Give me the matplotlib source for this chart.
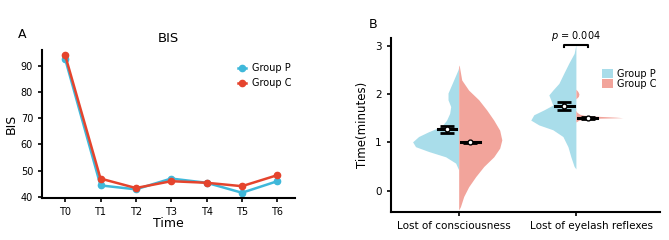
import numpy as np
import matplotlib.pyplot as plt
import matplotlib.transforms as mtransforms

# ---- panel A data (BIS over time) ----
time_labels = ['T0', 'T1', 'T2', 'T3', 'T4', 'T5', 'T6']
bis_p = [92.6, 44.4, 42.9, 47.0, 45.4, 41.6, 46.0]
bis_p_err = [0.6, 0.7, 0.6, 0.7, 0.6, 0.7, 0.7]
bis_c = [94.0, 47.0, 43.4, 46.0, 45.4, 44.1, 48.3]
bis_c_err = [0.6, 0.7, 0.6, 0.7, 0.6, 0.7, 0.7]

# ---- panel B data (half violins, outlines) ----
categories = ['Lost of consciousness', 'Lost of eyelash reflexes']

# (time, half width in category units)
cons_p_y = [0.43, 0.57, 0.70, 0.81, 0.91, 1.01, 1.12, 1.22, 1.33, 1.46, 1.60,
            1.74, 1.88, 2.02, 2.15, 2.29, 2.50, 2.55]
cons_p_w = [0, 0.026, 0.111, 0.256, 0.368, 0.393, 0.342, 0.256, 0.145, 0.103,
            0.077, 0.068, 0.091, 0.091, 0.068, 0.043, 0.006, 0]
cons_c_y = [-0.40, -0.33, -0.12, 0.08, 0.29, 0.50, 0.70, 0.88, 1.05, 1.25,
            1.46, 1.67, 1.88, 2.08, 2.29, 2.57, 2.60]
cons_c_w = [0, 0.015, 0.043, 0.085, 0.145, 0.214, 0.299, 0.350, 0.368, 0.350,
            0.299, 0.239, 0.171, 0.085, 0.026, 0.006, 0]
eye_p_y = [0.45, 0.50, 0.70, 0.91, 1.12, 1.26, 1.36, 1.46, 1.57, 1.67, 1.77,
           1.88, 1.98, 2.08, 2.22, 2.43, 2.64, 2.84, 3.02]
eye_p_w = [0, 0.015, 0.043, 0.068, 0.111, 0.197, 0.316, 0.385, 0.359, 0.274,
           0.197, 0.214, 0.231, 0.197, 0.145, 0.103, 0.060, 0.015, 0]
eye_c_y = [1.42, 1.46, 1.48, 1.50, 1.51, 1.52, 1.54, 1.56, 1.58, 1.62, 1.66,
           1.90, 1.95, 2.00, 2.05, 2.10]
eye_c_w = [0, 0.026, 0.068, 0.214, 0.40, 0.342, 0.171, 0.068, 0.034, 0.009, 0,
           0, 0.021, 0.026, 0.017, 0]

mean_p = [1.27, 1.75]
sem_p = [0.07, 0.08]
mean_c = [1.00, 1.51]
sem_c = [0.015, 0.02]

blue_a = '#3FB8DA'
red_a = '#E5442D'
blue_b = '#A9DDEA'
red_b = '#F2A49B'

fig = plt.figure(figsize=(6.69, 2.4), dpi=100)

# panel A
ax1 = fig.add_axes([0.063, 0.175, 0.378, 0.617])
x = np.arange(len(time_labels))
ax1.errorbar(x, bis_p, yerr=bis_p_err, color=blue_a, fmt='none', capsize=1.5, lw=1.2)
ax1.errorbar(x, bis_c, yerr=bis_c_err, color=red_a, fmt='none', capsize=1.5, lw=1.2)
ax1.plot(x, bis_p, color=blue_a, marker='o', ms=4.5, lw=1.8, label='Group P')
ax1.plot(x, bis_c, color=red_a, marker='o', ms=4.5, lw=1.8, label='Group C')
ax1.set_xlim(-0.65, 6.5)
ax1.set_ylim(39.6, 96)
ax1.set_yticks([40, 50, 60, 70, 80, 90])
ax1.set_xticks(x)
ax1.set_xticklabels(time_labels)
for s in ['top', 'right']:
    ax1.spines[s].set_visible(False)
for s in ['left', 'bottom']:
    ax1.spines[s].set_linewidth(1.5)
ax1.tick_params(labelsize=7, width=1.2, length=3)
ax1.set_xlabel('Time', fontsize=9, labelpad=0)
ax1.set_ylabel('BIS', fontsize=9, labelpad=2)
ax1.set_title('BIS', fontsize=9.5, pad=6)
ax1.legend(loc='upper right', bbox_to_anchor=(1.02, 0.97), frameon=False,
           fontsize=7, handlelength=0.8, handletextpad=0.6, labelspacing=0.5)
fig.text(0.027, 0.84, 'A', fontsize=9)

# panel B
ax2 = fig.add_axes([0.584, 0.117, 0.403, 0.725])
outlines = [(cons_p_y, cons_p_w, cons_c_y, cons_c_w),
            (eye_p_y, eye_p_w, eye_c_y, eye_c_w)]
for i, (py, pw, cy, cw) in enumerate(outlines):
    pos = i + 1
    ax2.fill_betweenx(py, pos - np.array(pw), pos, color=blue_b, lw=0,
                      label='Group P' if i == 0 else None)
    ax2.fill_betweenx(cy, pos, pos + np.array(cw), color=red_b, lw=0,
                      label='Group C' if i == 0 else None)
    for m, e, dx in [(mean_p[i], sem_p[i], -0.1), (mean_c[i], sem_c[i], 0.1)]:
        xc = pos + dx
        ax2.plot([xc - 0.08, xc + 0.08], [m, m], color='black', lw=2.2)
        ax2.errorbar(xc, m, yerr=e, color='black', capsize=5, capthick=2,
                     elinewidth=1.5, fmt='none')
        ax2.plot(xc, m, 'o', mfc='white', mec='black', ms=3.5, mew=1)

# significance bracket
ax2.plot([1.9, 1.9, 2.1, 2.1], [2.97, 3.01, 3.01, 2.97], color='black', lw=1.5)
ax2.text(2.0, 3.05, r'$p$ = 0.004', ha='center', va='bottom', fontsize=7)

ax2.set_xlim(0.42, 2.72)
ax2.set_ylim(-0.44, 3.16)
ax2.set_yticks([0, 1, 2, 3])
ax2.set_xticks([1, 2])
ax2.set_xticklabels([])
# category labels, nudged sideways like the original
trans = ax2.get_xaxis_transform()
for xi, (lab, shift) in enumerate(zip(categories, [-5, 16])):
    off = mtransforms.ScaledTranslation(shift / 100, -9 / 100, fig.dpi_scale_trans)
    ax2.text(xi + 1, 0, lab, ha='center', va='top', fontsize=7.5,
             transform=trans + off)
for s in ['top', 'right']:
    ax2.spines[s].set_visible(False)
for s in ['left', 'bottom']:
    ax2.spines[s].set_linewidth(1.5)
ax2.tick_params(labelsize=7.5, width=1.2, length=3)
ax2.set_ylabel('Time(minutes)', fontsize=8.5, labelpad=4)
ax2.legend(loc='upper left', bbox_to_anchor=(0.76, 0.86), frameon=False,
           fontsize=7, handlelength=1.1, handleheight=1.1,
           handletextpad=0.4, labelspacing=0.0, borderpad=0.2)
fig.text(0.551, 0.885, 'B', fontsize=9)

fig.savefig('out.png', dpi=100)
